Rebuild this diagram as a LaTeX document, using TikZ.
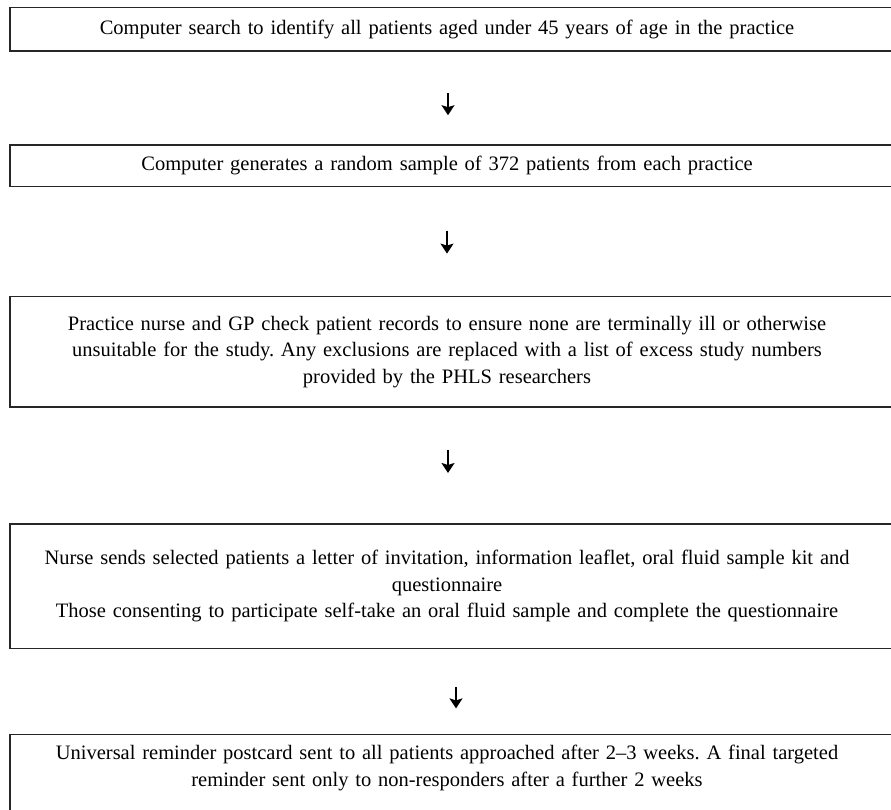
\documentclass[tikz,border=0pt]{standalone}
\usepackage{fontspec}
\setmainfont{Liberation Serif}
\usepackage{tikz}
\usetikzlibrary{arrows.meta, positioning}

\tikzset{
  stepbox/.style={inner sep=0pt, text width=870pt, align=center, font=\fontsize{20.5}{26.5}\selectfont},
  frame/.style={line width=1.4pt, black!85},
  flow/.style={-{Stealth[length=10pt, width=13pt, inset=2pt]}, line width=1.6pt},
}

\begin{document}
\frenchspacing
\begin{tikzpicture}[x=1pt, y=-1pt]
  \useasboundingbox (0,0) rectangle (891,810);
  \coordinate (left) at (10,0);
  \coordinate (right) at (905,0);
  \coordinate (bottom) at (905,860);

  % Steps
  \node[stepbox, minimum height=43pt] (search) at (447,29.5) {Computer search to identify all patients aged under 45 years of age in the practice};
  \node[stepbox, minimum height=41pt, below=94pt of search] (sample) {Computer generates a random sample of 372 patients from each practice};
  \node[stepbox, minimum height=110pt, below=110pt of sample] (check) {Practice nurse and GP check patient records to ensure none are terminally ill or otherwise\\ unsuitable for the study. Any exclusions are replaced with a list of excess study numbers\\ provided by the PHLS researchers};
  \node[stepbox, minimum height=124pt, below=117pt of check] (invite) {Nurse sends selected patients a letter of invitation, information leaflet, oral fluid sample kit and\\ questionnaire\\ Those consenting to participate self-take an oral fluid sample and complete the questionnaire};
  \node[stepbox, minimum height=67pt, below=86pt of invite] (remind) {Universal reminder postcard sent to all patients approached after 2–3 weeks. A final targeted\\ reminder sent only to non-responders after a further 2 weeks};

  % Frames
  \draw[frame] (search.north -| left) rectangle (search.south -| right);
  \draw[frame] (sample.north -| left) rectangle (sample.south -| right);
  \draw[frame] (check.north -| left) rectangle (check.south -| right);
  \draw[frame] (invite.north -| left) rectangle (invite.south -| right);
  \draw[frame] (remind.north -| left) rectangle (bottom);

  % Arrows
  \draw[flow, shorten <=42pt, shorten >=30pt] ([xshift=1pt]search.south) -- ([xshift=1pt]sample.north);
  \draw[flow, shorten <=44pt, shorten >=43pt] (sample.south) -- (check.north);
  \draw[flow, shorten <=43pt, shorten >=51pt] ([xshift=1pt]check.south) -- ([xshift=1pt]invite.north);
  \draw[flow, shorten <=39pt, shorten >=26pt] ([xshift=9pt]invite.south) -- ([xshift=9pt]remind.north);
\end{tikzpicture}
\end{document}
